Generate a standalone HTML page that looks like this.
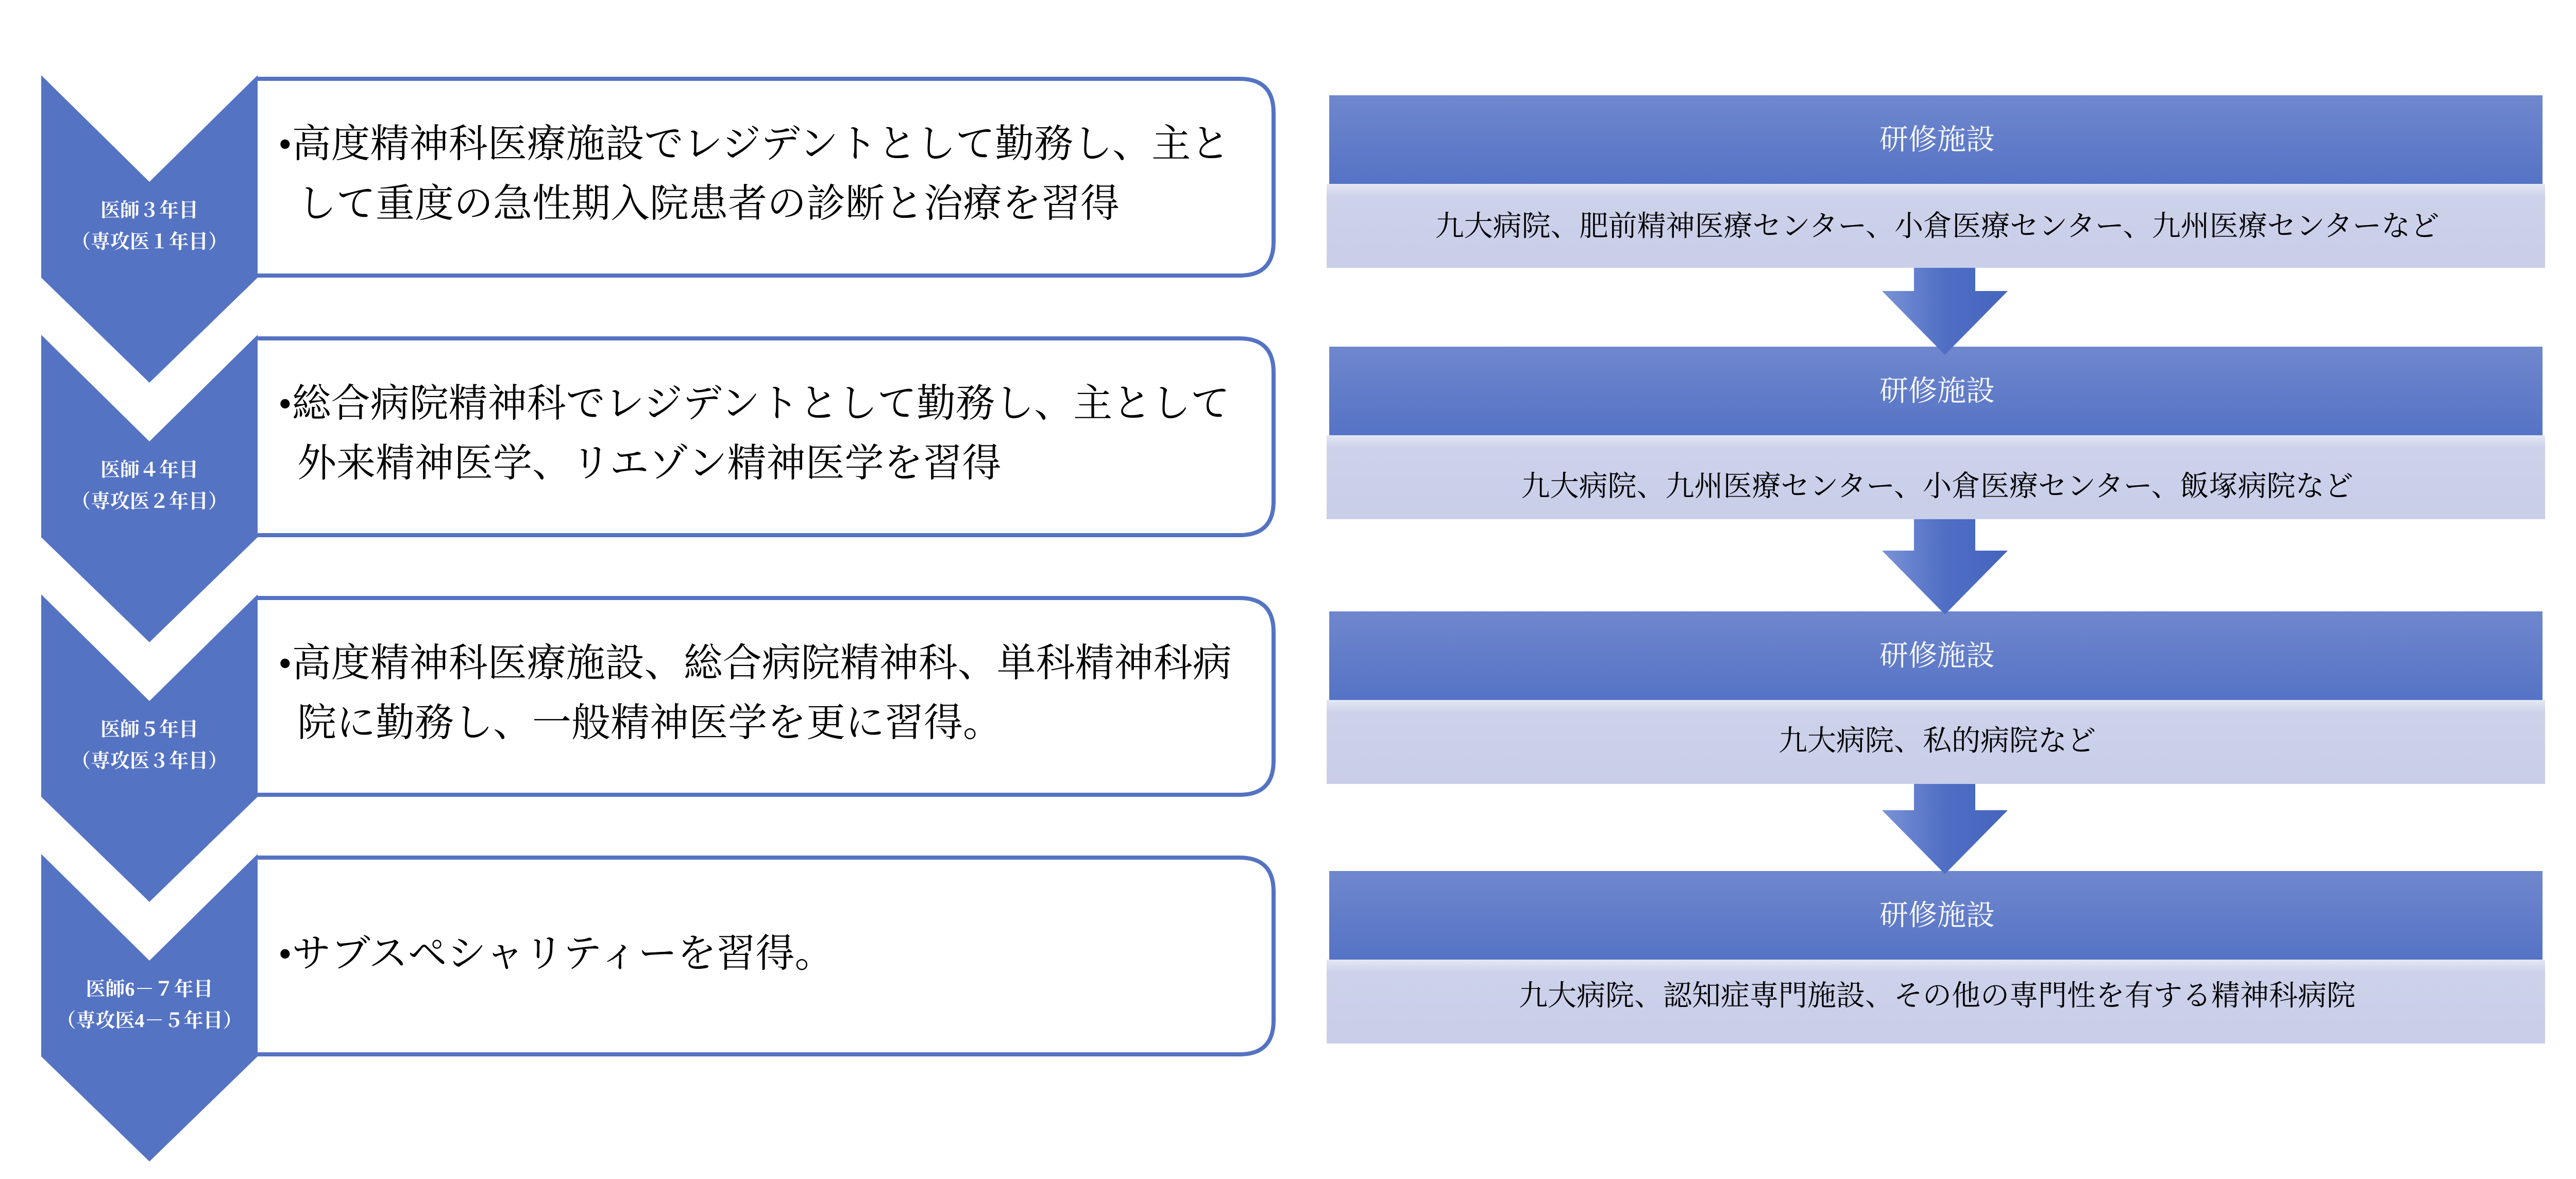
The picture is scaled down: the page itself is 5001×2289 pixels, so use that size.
<!DOCTYPE html>
<html><head><meta charset="utf-8"><style>
html,body{margin:0;padding:0;background:#fff;}
svg{display:block}
.m{font-family:"Liberation Serif","Noto Serif CJK SC",serif;}
.g{font-family:"Liberation Serif","Noto Serif CJK SC",serif;}
</style></head><body>
<svg width="5001" height="2289" viewBox="0 0 5001 2289" xmlns="http://www.w3.org/2000/svg">
<defs>
<linearGradient id="hd" x1="0" y1="0" x2="0" y2="1"><stop offset="0" stop-color="#6f87cd"/><stop offset="1" stop-color="#5573c5"/></linearGradient>
<linearGradient id="bd" x1="0" y1="0" x2="0" y2="1"><stop offset="0" stop-color="#e4e7f4"/><stop offset="0.15" stop-color="#cdd2ea"/><stop offset="1" stop-color="#c9cee9"/></linearGradient>
<linearGradient id="ar" x1="0" y1="0" x2="1" y2="0"><stop offset="0" stop-color="#7a93d6"/><stop offset="0.5" stop-color="#4f6ec4"/><stop offset="1" stop-color="#4565bd"/></linearGradient>
</defs>
<g fill="#5573c3">
<polygon points="80,146 290,353 500,146 500,539 290,743 80,539"/>
<polygon points="80,650 290,857 500,650 500,1043 290,1247 80,1043"/>
<polygon points="80,1154 290,1361 500,1154 500,1547 290,1751 80,1547"/>
<polygon points="80,1658 290,1865 500,1658 500,2051 290,2255 80,2051"/>
</g>
<g class="g" fill="#fff" font-size="38" font-weight="bold" text-anchor="middle">
<text x="290" y="421">医師３年目</text><text x="290" y="482">（専攻医１年目）</text>
<text x="290" y="925">医師４年目</text><text x="290" y="986">（専攻医２年目）</text>
<text x="290" y="1429">医師５年目</text><text x="290" y="1490">（専攻医３年目）</text>
<text x="290" y="1933">医師6－７年目</text><text x="290" y="1994">（専攻医4－５年目）</text>
</g>
<g fill="#fff" stroke="#5573c3" stroke-width="8">
<path d="M500,153 H2406 Q2472,153 2472,219 V469 Q2472,535 2406,535 H500"/>
<path d="M500,657 H2406 Q2472,657 2472,723 V973 Q2472,1039 2406,1039 H500"/>
<path d="M500,1161 H2406 Q2472,1161 2472,1227 V1477 Q2472,1543 2406,1543 H500"/>
<path d="M500,1665 H2406 Q2472,1665 2472,1731 V1981 Q2472,2047 2406,2047 H500"/>
</g>
<g class="m" fill="#000" font-size="76">
<text x="540" y="305">•高度精神科医療施設でレジデントとして勤務し、主と</text>
<text x="577" y="421">して重度の急性期入院患者の診断と治療を習得</text>
<text x="540" y="809">•総合病院精神科でレジデントとして勤務し、主として</text>
<text x="577" y="925">外来精神医学、リエゾン精神医学を習得</text>
<text x="540" y="1313">•高度精神科医療施設、総合病院精神科、単科精神科病</text>
<text x="577" y="1429">院に勤務し、一般精神医学を更に習得。</text>
<text x="540" y="1877">•サブスペシャリティーを習得。</text>
</g>
<g>
<rect x="2580" y="185" width="2355" height="172" fill="url(#hd)"/>
<rect x="2575" y="357" width="2365" height="163" fill="url(#bd)"/>
<rect x="2580" y="673" width="2355" height="172" fill="url(#hd)"/>
<rect x="2575" y="845" width="2365" height="163" fill="url(#bd)"/>
<rect x="2580" y="1187" width="2355" height="172" fill="url(#hd)"/>
<rect x="2575" y="1359" width="2365" height="163" fill="url(#bd)"/>
<rect x="2580" y="1691" width="2355" height="172" fill="url(#hd)"/>
<rect x="2575" y="1863" width="2365" height="163" fill="url(#bd)"/>
</g>
<g fill="url(#ar)">
<polygon points="3715,520 3834,520 3834,565 3897,565 3775,689 3653,565 3715,565"/>
<polygon points="3715,1008 3834,1008 3834,1069 3897,1069 3775,1193 3653,1069 3715,1069"/>
<polygon points="3715,1522 3834,1522 3834,1573 3897,1573 3775,1697 3653,1573 3715,1573"/>
</g>
<g class="m" font-size="56" text-anchor="middle">
<text x="3760" y="290" fill="#fff">研修施設</text>
<text x="3760" y="458" fill="#000">九大病院、肥前精神医療センター、小倉医療センター、九州医療センターなど</text>
<text x="3760" y="778" fill="#fff">研修施設</text>
<text x="3760" y="963" fill="#000">九大病院、九州医療センター、小倉医療センター、飯塚病院など</text>
<text x="3760" y="1292" fill="#fff">研修施設</text>
<text x="3760" y="1457" fill="#000">九大病院、私的病院など</text>
<text x="3760" y="1796" fill="#fff">研修施設</text>
<text x="3760" y="1952" fill="#000">九大病院、認知症専門施設、その他の専門性を有する精神科病院</text>
</g>
</svg>
</body></html>
